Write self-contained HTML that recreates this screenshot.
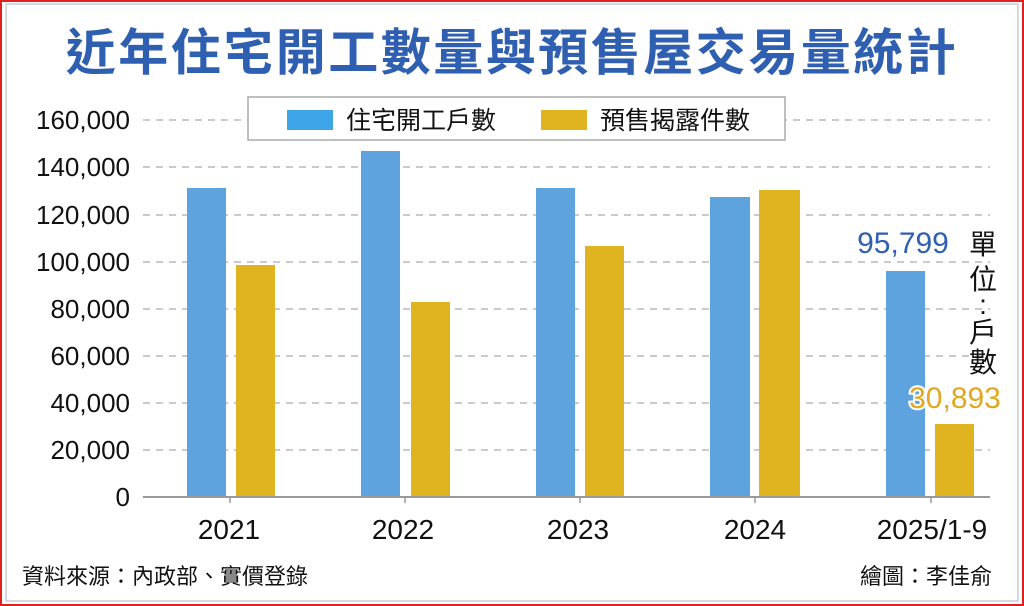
<!DOCTYPE html>
<html><head><meta charset="utf-8"><style>
html,body{margin:0;padding:0;background:#fff;}
body{width:1024px;height:606px;overflow:hidden;position:relative;font-family:"Liberation Sans","Noto Sans CJK TC",sans-serif;}
</style></head><body>
<svg width="1024" height="606" xmlns="http://www.w3.org/2000/svg" style="position:absolute;left:0;top:0;font-family:'Liberation Sans','Noto Sans CJK TC',sans-serif">
<rect x="1" y="1" width="1022" height="604" fill="#fff" stroke="#e02020" stroke-width="2"/>
<rect x="6" y="4" width="1012" height="597" fill="none" stroke="#c8ccd4" stroke-width="1.5"/>
<text x="512" y="70" text-anchor="middle" font-size="50" font-weight="bold" fill="#2f5fb0" letter-spacing="2.5">近年住宅開工數量與預售屋交易量統計</text>
<g stroke="#aaa" stroke-width="1.3" stroke-dasharray="7,6">
<line x1="143" y1="120" x2="990" y2="120"/>
<line x1="143" y1="167" x2="990" y2="167"/>
<line x1="143" y1="215" x2="990" y2="215"/>
<line x1="143" y1="262" x2="990" y2="262"/>
<line x1="143" y1="309" x2="990" y2="309"/>
<line x1="143" y1="356" x2="990" y2="356"/>
<line x1="143" y1="403" x2="990" y2="403"/>
<line x1="143" y1="450" x2="990" y2="450"/>
</g>
<g font-size="26" fill="#111" text-anchor="end">
<text x="130" y="129">160,000</text>
<text x="130" y="176">140,000</text>
<text x="130" y="224">120,000</text>
<text x="130" y="271">100,000</text>
<text x="130" y="318">80,000</text>
<text x="130" y="365">60,000</text>
<text x="130" y="412">40,000</text>
<text x="130" y="459">20,000</text>
<text x="130" y="506">0</text>
</g>
<g fill="#5ea3dd">
<rect x="187" y="188" width="39" height="309"/>
<rect x="361" y="151" width="39" height="346"/>
<rect x="536" y="188" width="39" height="309"/>
<rect x="710" y="197" width="40" height="300"/>
<rect x="886" y="271" width="39" height="226"/>
</g>
<g fill="#e0b321">
<rect x="236" y="265" width="39" height="232"/>
<rect x="411" y="302" width="39" height="195"/>
<rect x="585" y="246" width="39" height="251"/>
<rect x="759" y="190" width="41" height="307"/>
<rect x="935" y="424" width="39" height="73"/>
</g>
<line x1="143" y1="497" x2="990" y2="497" stroke="#999" stroke-width="2"/>
<g stroke="#999" stroke-width="1.5">
<line x1="230" y1="497" x2="230" y2="503"/><line x1="405" y1="497" x2="405" y2="503"/>
<line x1="580" y1="497" x2="580" y2="503"/><line x1="755" y1="497" x2="755" y2="503"/>
<line x1="931" y1="497" x2="931" y2="503"/>
</g>
<g font-size="28" fill="#111" text-anchor="middle">
<text x="229" y="539">2021</text><text x="403" y="539">2022</text><text x="578" y="539">2023</text>
<text x="755" y="539">2024</text><text x="932" y="539">2025/1-9</text>
</g>
<rect x="248" y="97" width="537" height="43" fill="#fff" stroke="#aaa" stroke-width="1.5"/>
<rect x="287" y="110" width="46" height="20" fill="#3ea6e8"/>
<text x="346" y="129" font-size="25" fill="#111">住宅開工戶數</text>
<rect x="541" y="110" width="46" height="20" fill="#e0b321"/>
<text x="600" y="129" font-size="25" fill="#111">預售揭露件數</text>
<text x="903" y="253" font-size="30" fill="#2f5fb0" text-anchor="middle">95,799</text>
<text x="955" y="408" font-size="30" fill="#e0a820" text-anchor="middle" stroke="#fff" stroke-width="4" paint-order="stroke">30,893</text>
<g font-size="28" fill="#111" text-anchor="middle">
<text x="983" y="254">單</text><text x="983" y="289">位</text><text x="983" y="314">:</text>
<text x="983" y="342">戶</text><text x="983" y="372">數</text>
</g>
<text x="22" y="584" font-size="22" fill="#111">資料來源：內政部、實價登錄</text>
<text x="992" y="584" font-size="22" fill="#111" text-anchor="end">繪圖：李佳俞</text>
</svg>
</body></html>
